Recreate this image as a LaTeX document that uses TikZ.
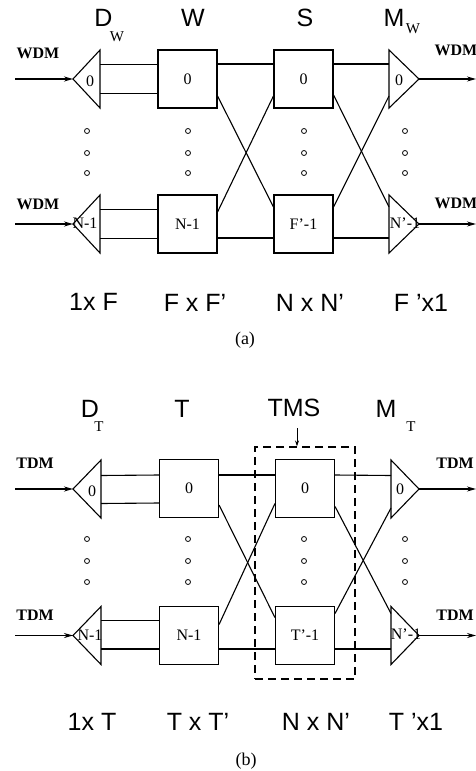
\documentclass[tikz,border=0pt]{standalone}
\usepackage{fontspec}
\setmainfont{Liberation Serif}
\newfontfamily\hv{Liberation Sans}
\usetikzlibrary{arrows.meta,calc}
\begin{document}
\begin{tikzpicture}[x=1pt,y=-1pt,line width=1.1pt,
  box/.style={draw, minimum width=59pt, minimum height=58pt, inner sep=0pt, font=\fontsize{16}{18}\selectfont},
  lbl/.style={font=\hv\fontsize{25}{28}\selectfont, inner sep=0pt},
  subtxt/.style={font=\fontsize{15}{16}\selectfont, inner sep=0pt},
  sig/.style={font=\bfseries\fontsize{16}{18}\selectfont, inner sep=0pt},
  tritxt/.style={font=\fontsize{16}{18}\selectfont, inner sep=0pt},
  captxt/.style={font=\fontsize{18}{20}\selectfont, inner sep=0pt},
  inarrow/.style={line width=1.8pt, -{Stealth[length=9pt,width=5pt]}},
  outarrow/.style={line width=1.2pt, -{Stealth[length=9pt,width=5pt]}},
  demux/.pic={\draw (0,-29) -- (-#1,0) coordinate (-tip) -- (0,29) -- cycle; \coordinate (-b) at (0,0);},
  mux/.pic={\draw (0,-29) -- (#1,0) coordinate (-tip) -- (0,29) -- cycle; \coordinate (-b) at (0,0);},
]
\useasboundingbox (0,0) rectangle (476,771);

% ================= panel (a) =================
\node[lbl] (lda) at (103.5,18) {D};
\node[subtxt] (ldas) at (117,37) {W};
\node[lbl] (lwa) at (193,18) {W};
\node[lbl] (lsa) at (305,18) {S};
\node[lbl] (lma) at (394,18) {M};
\node[subtxt] (lmas) at (413,29) {W};

\node[box] (w0) at (187.5,79) {0};
\node[box] (wn) at (187.5,224) {N-1};
\node[box] (sa0) at (303.5,79) {0};
\node[box] (san) at (303.5,224) {F’-1};
\pic (da0) at (100,79) {demux=27};
\pic (dan) at (100,224) {demux=27};
\pic (ma0) at (389,79) {mux=30};
\pic (man) at (389,224) {mux=30};
\node[tritxt] (da0t) at (90,81) {0};
\node[tritxt] (dant) at (85,223) {N-1};
\node[tritxt] (ma0t) at (399,80) {0};
\node[tritxt] (mant) at (405,223) {N’-1};

\coordinate (ina0) at (15,79);
\coordinate (inan) at (15,224);
\coordinate (outa0) at (476,79);
\coordinate (outan) at (476,224);
\draw[inarrow] (ina0) -- (da0-tip);
\draw[inarrow] (inan) -- (dan-tip);
\draw[outarrow] (ma0-tip) -- (outa0);
\draw[outarrow] (man-tip) -- (outan);

\draw ($(da0-b)+(0,-14.5)$) -- ($(w0.west)+(0,-14.5)$);
\draw ($(da0-b)+(0,14.5)$) -- ($(w0.west)+(0,14.5)$);
\draw ($(dan-b)+(0,-14.5)$) -- ($(wn.west)+(0,-14.5)$);
\draw ($(dan-b)+(0,14.5)$) -- ($(wn.west)+(0,14.5)$);
\draw ($(w0.east)+(0,-15)$) -- ($(sa0.west)+(0,-15)$);
\draw ($(w0.east)+(0,17)$) -- ($(san.west)+(0,-17)$);
\draw ($(wn.east)+(0,-12)$) -- ($(sa0.west)+(0,17)$);
\draw ($(wn.east)+(0,14)$) -- ($(san.west)+(0,14)$);
\draw ($(sa0.east)+(0,-15)$) -- ($(ma0-b)+(0,-15)$);
\draw ($(sa0.east)+(0,16)$) -- ($(man-b)+(0,-17)$);
\draw ($(san.east)+(0,-17)$) -- ($(ma0-b)+(0,17)$);
\draw ($(san.east)+(0,14)$) -- ($(man-b)+(0,14)$);

\foreach \x in {87,188,304,405} \foreach \y in {131,153,173}
  \draw[line width=0.8pt] (\x,\y) circle[radius=2.5pt];

\node[sig] (wdm1) at (38,53) {WDM};
\node[sig] (wdm2) at (38,204) {WDM};
\node[sig] (wdm3) at (456,50) {WDM};
\node[sig] (wdm4) at (456,203) {WDM};

\node[lbl] (ba1) at (93.5,302) {1x F};
\node[lbl] (ba2) at (195,303) {F x F’};
\node[lbl] (ba3) at (310,303) {N x N’};
\node[lbl] (ba4) at (421,303) {F ’x1};
\node[captxt] (capa) at (245,340) {(a)};

% ================= panel (b) =================
\node[lbl] (ldb) at (90,409) {D};
\node[subtxt] (ldbs) at (99,427) {T};
\node[lbl] (ltb) at (182,409) {T};
\node[lbl] (tmsl) at (294,408) {TMS};
\node[lbl] (lmb) at (386,409) {M};
\node[subtxt] (lmbs) at (411,427) {T};

\node[draw, dashed, dash pattern=on 8pt off 5pt, minimum width=100pt, minimum height=232pt, inner sep=0pt] (tms) at (305,563) {};
\coordinate (tmsa) at ($(tmsl.south)+(3,11)$);
\draw[line width=0.9pt, -{Stealth[length=6pt,width=4pt]}] (tmsa) -- (tmsa |- tms.north);

\node[box] (t0) at (189,488.5) {0};
\node[box] (tn) at (189,635.5) {N-1};
\node[box] (sb0) at (305,488.5) {0};
\node[box] (sbn) at (305,635.5) {T’-1};
\pic (db0) at (101,489) {demux=28};
\pic (dbn) at (101,635.5) {demux=28};
\pic (mb0) at (391,489) {mux=28};
\pic (mbn) at (391,635.5) {mux=28};
\node[tritxt] (db0t) at (92,491) {0};
\node[tritxt] (dbnt) at (90,635) {N-1};
\node[tritxt] (mb0t) at (400,489) {0};
\node[tritxt] (mbnt) at (406,634) {N’-1};

\coordinate (inb0) at (15,489);
\coordinate (inbn) at (15,635.5);
\coordinate (outb0) at (476,489);
\coordinate (outbn) at (476,635.5);
\draw[inarrow] (inb0) -- (db0-tip);
\draw[inarrow] (inbn) -- (dbn-tip);
\draw[outarrow] (mb0-tip) -- (outb0);
\draw[outarrow] (mbn-tip) -- (outbn);

\draw ($(db0-b)+(0,-13.5)$) -- ($(t0.west)+(0,-13.5)$);
\draw ($(db0-b)+(0,14.5)$) -- ($(t0.west)+(0,14.5)$);
\draw ($(dbn-b)+(0,-15)$) -- ($(tn.west)+(0,-15)$);
\draw ($(dbn-b)+(0,13.5)$) -- ($(tn.west)+(0,13.5)$);
\draw ($(t0.east)+(0,-13.5)$) -- ($(sb0.west)+(0,-13.5)$);
\draw ($(t0.east)+(0,16.5)$) -- ($(sbn.west)+(0,-18)$);
\draw ($(tn.east)+(0,-11)$) -- ($(sb0.west)+(0,15)$);
\draw ($(tn.east)+(0,13.5)$) -- ($(sbn.west)+(0,13.5)$);
\draw ($(sb0.east)+(0,-13.5)$) -- ($(mb0-b)+(0,-13.5)$);
\draw ($(sb0.east)+(0,18)$) -- ($(mbn-b)+(0,-22)$);
\draw ($(sbn.east)+(0,-22)$) -- ($(mb0-b)+(0,19)$);
\draw ($(sbn.east)+(0,13.5)$) -- ($(mbn-b)+(0,13.5)$);

\foreach \x in {87,188,304,405} \foreach \y in {539,561,582}
  \draw[line width=0.8pt] (\x,\y) circle[radius=2.5pt];

\node[sig] (tdm1) at (35,463) {TDM};
\node[sig] (tdm2) at (35,615) {TDM};
\node[sig] (tdm3) at (455,463) {TDM};
\node[sig] (tdm4) at (455,615) {TDM};

\node[lbl] (bb1) at (92,722) {1x T};
\node[lbl] (bb2) at (198,722) {T x T’};
\node[lbl] (bb3) at (316,722) {N x N’};
\node[lbl] (bb4) at (416,722) {T ’x1};
\node[captxt] (capb) at (246,761) {(b)};
\end{tikzpicture}
\end{document}
